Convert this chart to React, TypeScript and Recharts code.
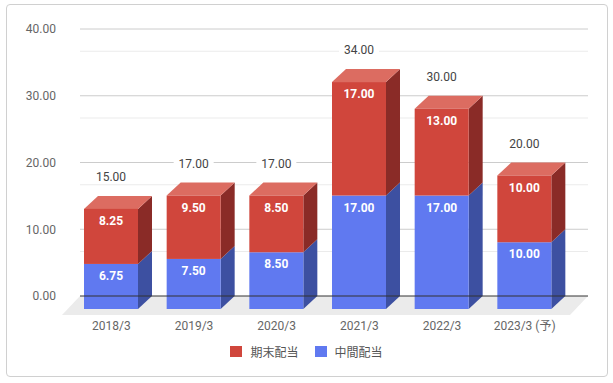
import React from 'react';
import { BarChart, Bar, XAxis, YAxis, CartesianGrid, Legend, LabelList } from 'recharts';

const years = ['2018/3', '2019/3', '2020/3', '2021/3', '2022/3', '2023/3 (予)'];
const interim = [6.75, 7.5, 8.5, 17, 17, 10];
const yearEnd = [8.25, 9.5, 8.5, 17, 13, 10];
const totals = [15, 17, 17, 34, 30, 20];
const majorTicks = [0, 10, 20, 30, 40];
const minorTicks = majorTicks.slice(1).flatMap((t) => [t - 20 / 3, t - 10 / 3]);

const seriesInfo = [
  { key: 'yearEnd', name: '期末配当', front: '#D0463C', side: '#8A2B27', top: '#DC6C61' },
  { key: 'interim', name: '中間配当', front: '#6079F0', side: '#3D50A1', top: '#8797F3' },
];

const data = years.map((year, i) => ({ year, interim: interim[i], yearEnd: yearEnd[i] }));

// 3D depth: front face sits left/down of the back plane
const DX = 14;
const DY = 13;
const FONT = 'Roboto, "Noto Sans CJK JP", sans-serif';

const makeBox = (front: string, side: string, top: string, withTop: boolean) => (props: any) => {
  const { x, y, width, height } = props;
  if (width == null || height == null) return null;
  const fx = x - DX;
  const fy = y + DY;
  return (
    <g>
      <polygon
        points={`${fx + width},${fy} ${x + width},${y} ${x + width},${y + height} ${fx + width},${fy + height}`}
        fill={side}
      />
      {withTop && (
        <polygon points={`${fx},${fy} ${x},${y} ${x + width},${y} ${fx + width},${fy}`} fill={top} />
      )}
      <rect x={fx} y={fy} width={width} height={height} fill={front} />
    </g>
  );
};

const SegmentLabel = (props: any) => {
  const { x, y, width, value } = props;
  return (
    <text
      x={x + width / 2 - DX}
      y={y + DY + 12}
      textAnchor="middle"
      dominantBaseline="central"
      fill="#fff"
      fontSize={12}
      fontWeight="bold"
      fontFamily={FONT}
    >
      {Number(value).toFixed(2)}
    </text>
  );
};

const TotalLabel = (props: any) => {
  const { x, y, width, index } = props;
  const cx = x + width / 2 - DX;
  const cy = y - 19;
  return (
    <g>
      <rect x={cx - 20} y={cy - 7} width={40} height={14} fill="#fff" />
      <text x={cx} y={cy} textAnchor="middle" dominantBaseline="central" fill="#444" fontSize={12} fontFamily={FONT}>
        {totals[index].toFixed(2)}
      </text>
    </g>
  );
};

const XTick = (props: any) => {
  const { x, y, payload } = props;
  return (
    <text x={x - DX} y={y} dy="0.355em" textAnchor="middle" fill="#666" fontSize={12} fontFamily={FONT}>
      {payload.value}
    </text>
  );
};

const LegendContent = () => (
  <div style={{ display: 'flex', justifyContent: 'center', fontFamily: FONT, fontSize: 12, color: '#555' }}>
    {seriesInfo.map((s, i) => (
      <div key={s.key} style={{ display: 'flex', alignItems: 'center', marginLeft: i ? 16 : 0 }}>
        <span style={{ width: 12, height: 11, background: s.front, display: 'inline-block', marginRight: 8 }} />
        <span>{s.name}</span>
      </div>
    ))}
  </div>
);

export default function App() {
  return (
    <div style={{ position: 'absolute', left: 0, top: 0, width: 613, height: 383, background: '#fff' }}>
      <div
        style={{
          position: 'absolute',
          left: 6,
          top: 4,
          width: 600,
          height: 371,
          border: '1px solid #d0d0d0',
          borderRadius: 4,
        }}
      />
      <svg style={{ position: 'absolute', left: 0, top: 0 }} width={613} height={383}>
        <polygon points="80,296 588,296 570,315 62,315" fill="#ebebeb" />
      </svg>
      <div style={{ position: 'absolute', left: 0, top: 0 }}>
        <BarChart width={613} height={383} data={data} margin={{ top: 29, right: 25, left: 0, bottom: 47 }}>
          <CartesianGrid vertical={false} horizontalValues={minorTicks} stroke="#ebebeb" />
          <CartesianGrid vertical={false} horizontalValues={majorTicks.slice(1)} stroke="#cccccc" />
          <YAxis
            width={80}
            domain={[0, 40]}
            ticks={majorTicks}
            tickFormatter={(v: number) => v.toFixed(2)}
            axisLine={false}
            tickLine={false}
            tickSize={0}
            tickMargin={24}
            tick={{ fill: '#666', fontSize: 12, fontFamily: FONT }}
          />
          <XAxis
            dataKey="year"
            height={40}
            padding={{ left: 4, right: 8 }}
            axisLine={{ stroke: '#333' }}
            tickLine={false}
            tickSize={0}
            tickMargin={30}
            interval={0}
            tick={<XTick />}
          />
          <Legend verticalAlign="middle" wrapperStyle={{ top: 343, left: 0, width: 613 }} content={<LegendContent />} />
          <Bar
            dataKey="interim"
            name="中間配当"
            stackId="a"
            barSize={54}
            fill={seriesInfo[1].front}
            isAnimationActive={false}
            shape={makeBox(seriesInfo[1].front, seriesInfo[1].side, seriesInfo[1].top, false)}
          >
            <LabelList dataKey="interim" content={<SegmentLabel />} />
          </Bar>
          <Bar
            dataKey="yearEnd"
            name="期末配当"
            stackId="a"
            barSize={54}
            fill={seriesInfo[0].front}
            isAnimationActive={false}
            shape={makeBox(seriesInfo[0].front, seriesInfo[0].side, seriesInfo[0].top, true)}
          >
            <LabelList dataKey="yearEnd" content={<SegmentLabel />} />
            <LabelList dataKey="yearEnd" content={<TotalLabel />} />
          </Bar>
        </BarChart>
      </div>
    </div>
  );
}
